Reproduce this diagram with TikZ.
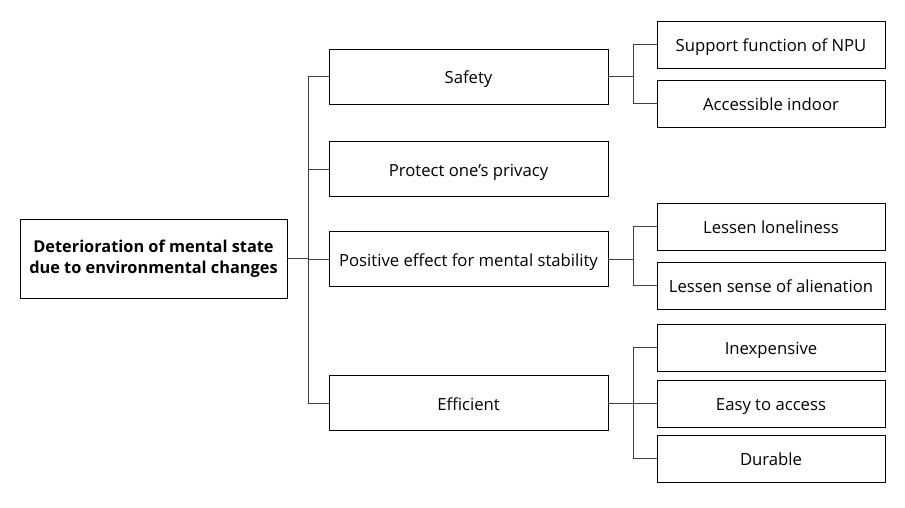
\documentclass[tikz,border=0pt]{standalone}
\usepackage{fontspec}
\setmainfont{Open Sans}
\usetikzlibrary{arrows}

\begin{document}
\begin{tikzpicture}
  [x=0.02cm,y=-0.02cm,font=\fontsize{9.5}{11}\selectfont,
   every node/.style={draw,line width=0.5pt,inner sep=2pt,align=center},
   mid/.style={minimum width=279*0.02cm,minimum height=55*0.02cm,text height=2ex,text depth=0.5ex},
   leaf/.style={minimum width=228*0.02cm,minimum height=47*0.02cm,text height=2ex,text depth=0.5ex},
   link/.style={draw=black!75,line width=0.5pt}]
  \useasboundingbox (0,0) rectangle (905,507);
  \node[minimum width=267*0.02cm,minimum height=79*0.02cm,font=\fontsize{9.3}{12}\selectfont\bfseries] (root) at (153.5,258.5) {Deterioration of mental state\\due to environmental changes};
  \node[mid] (safety) at (468.5,76.5) {Safety};
  \node[mid] (privacy) at (468.5,169) {Protect one's privacy};
  \node[mid] (positive) at (468.5,259) {Positive effect for mental stability};
  \node[mid] (efficient) at (468.5,403) {Efficient};
  \node[leaf] (npu) at (771,44.5) {Support function of NPU};
  \node[leaf] (indoor) at (771,103.5) {Accessible indoor};
  \node[leaf] (lonely) at (771,226.5) {Lessen loneliness};
  \node[leaf] (alien) at (771,285.5) {Lessen sense of alienation};
  \node[leaf] (cheap) at (771,347.5) {Inexpensive};
  \node[leaf] (easy) at (771,403.5) {Easy to access};
  \node[leaf] (durable) at (771,458.5) {Durable};
  \coordinate (j0) at (308,258.5);
  \coordinate (j1) at (633,76.5);
  \coordinate (j2) at (633,259);
  \coordinate (j3) at (633,403);
  \draw[link] (root) -- (j0);
  \draw[link] (safety) -- (j1);
  \draw[link] (positive) -- (j2);
  \draw[link] (efficient) -- (j3);
  \foreach \from/\to in {j0/safety,j0/privacy,j0/positive,j0/efficient,j1/npu,j1/indoor,j2/lonely,j2/alien,j3/cheap,j3/easy,j3/durable}
    \draw[link] (\from) |- (\to.west);
\end{tikzpicture}
\end{document}
